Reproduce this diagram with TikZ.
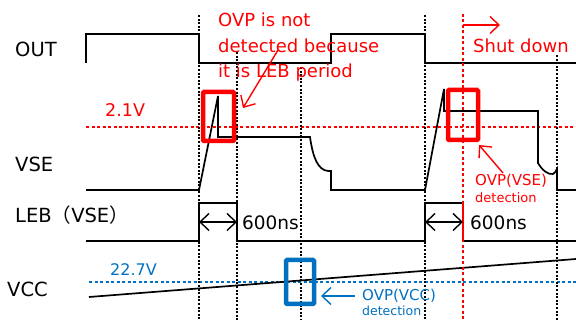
\documentclass[tikz,border=0pt]{standalone}
\usepackage{fontspec}
\setmainfont{DejaVu Sans}
\newfontfamily\cjk{Noto Sans CJK JP}
\usetikzlibrary{arrows.meta}
\definecolor{ovpred}{RGB}{255,0,0}
\definecolor{vccblue}{RGB}{0,112,192}
\tikzset{
  wave/.style={line width=1.7pt},
  marker/.style={black, line width=1.3pt, dash pattern=on 2pt off 1.6pt},
  redmark/.style={ovpred, line width=1.4pt, dash pattern=on 3pt off 2.5pt},
  bluemark/.style={vccblue, line width=1.4pt, dash pattern=on 3pt off 2.5pt},
  siglabel/.style={anchor=base west, inner sep=0pt, font=\fontsize{19.5}{22}\selectfont},
  note/.style={anchor=base west, inner sep=0pt},
  hitbox/.style={draw, line width=4.5pt, rounded corners=1pt, inner sep=0pt},
  barb/.style={-{Straight Barb[length=9pt,width=17pt]}, line width=1.4pt},
  span/.style={{Straight Barb[length=9pt,width=17pt]}-{Straight Barb[length=9pt,width=17pt]}, line width=1.4pt},
}

\begin{document}
\begin{tikzpicture}[x=1pt, y=-1pt]
  \useasboundingbox (0,0) rectangle (576,320);

  % Signal names
  \node[siglabel] (lout) at (15,57) {OUT};
  \node[siglabel] (lvse) at (15,172) {VSE};
  \node[siglabel] (lleb) at (15,223) {LEB{\cjk （}VSE{\cjk ）}};
  \node[siglabel] (lvcc) at (7,297) {VCC};

  % Threshold levels
  \draw[redmark] (86,127) -- (576,127);
  \node[note, text=ovpred, font=\fontsize{17.5}{20}\selectfont] (l21) at (105,117) {2.1V};
  \draw[bluemark] (89,282) -- (576,282);
  \node[note, text=vccblue, font=\fontsize{16}{19}\selectfont] (l227) at (110,276) {22.7V};

  % Waveforms
  \draw[wave] (86,63) -- (86,34) -- (199,34) -- (199,63) -- (331,63) -- (331,34)
    -- (425,34) -- (425,63) -- (576,63);
  \draw[wave] (86,190) -- (199,190) -- (218,96) -- (218,137) -- (310,137)
    .. controls (313,158) and (318,170) .. (328,171) -- (331,171) -- (331,190)
    -- (425,190) -- (444,89) -- (444,111) -- (538,111) -- (538,163)
    .. controls (542,170) and (548,175) .. (553,174)
    .. controls (555,173) and (556,171) .. (557,169) -- (557,190) -- (576,190);
  \draw[wave] (86,241) -- (199,241) -- (199,203) -- (237,203) -- (237,241)
    -- (425,241) -- (425,203) -- (463,203);
  \draw[wave, ovpred] (463,203) -- (463,241);
  \draw[wave] (463,241) -- (576,241);
  \draw[wave] (89,297) -- (576,259);

  % Timing markers
  \draw[marker] (199,15) -- (199,320);
  \draw[marker] (237,52) -- (237,320);
  \draw[marker] (301,67) -- (301,320);
  \draw[marker] (425,15) -- (425,320);
  \draw[marker] (557,55) -- (557,320);
  \draw[redmark] (463,14) -- (463,320);

  % LEB periods
  \coordinate (lebA1) at (199,222);
  \coordinate (lebA2) at (237,222);
  \coordinate (lebB1) at (425,222);
  \coordinate (lebB2) at (463,222);
  \draw[span] (lebA1) -- (lebA2);
  \draw[span] (lebB1) -- (lebB2);
  \node[note, font=\fontsize{18.5}{21}\selectfont] (t600a) at (242,230) {600ns};
  \node[note, font=\fontsize{18.5}{21}\selectfont] (t600b) at (470,230) {600ns};

  % Detection boxes
  \node[hitbox, ovpred, minimum width=31pt, minimum height=49pt] (ovpA) at (218.5,116.5) {};
  \node[hitbox, ovpred, minimum width=30pt, minimum height=50pt] (ovpB) at (463,115) {};
  \node[hitbox, vccblue, minimum width=28pt, minimum height=44pt] (ovpC) at (300,282) {};

  % Notes
  \node[note, text=ovpred, align=left, font=\fontsize{18}{25.5}\selectfont] (nleb) at (218,78)
    {OVP is not\\detected because\\it is LEB period};
  \coordinate (nlebtail) at (278,50);
  \coordinate (nlebtip) at (243,108);
  \draw[barb, ovpred] (nlebtail) -- (nlebtip);

  \coordinate (sdfrom) at (463,25);
  \coordinate (sdto) at (500,25);
  \draw[barb, ovpred] (sdfrom) -- (sdto);
  \node[note, text=ovpred, font=\fontsize{18}{21}\selectfont] (nsd) at (473,53) {Shut down};

  \node[note, text=ovpred, font=\fontsize{15}{18}\selectfont] (nvse) at (475,186) {OVP(VSE)};
  \node[note, text=ovpred, font=\fontsize{13}{15}\selectfont] (nvsed) at (475,203) {detection};
  \coordinate (nvsetail) at (503,173);
  \coordinate (nvsetip) at (479,145);
  \draw[barb, ovpred] (nvsetail) -- (nvsetip);

  \node[note, text=vccblue, font=\fontsize{15}{18}\selectfont] (nvcc) at (362,301) {OVP(VCC)};
  \node[note, text=vccblue, font=\fontsize{12.5}{15}\selectfont] (nvccd) at (362,316) {detection};
  \coordinate (nvcctail) at (355,296);
  \coordinate (nvcctip) at (321,296);
  \draw[barb, vccblue] (nvcctail) -- (nvcctip);
\end{tikzpicture}
\end{document}
